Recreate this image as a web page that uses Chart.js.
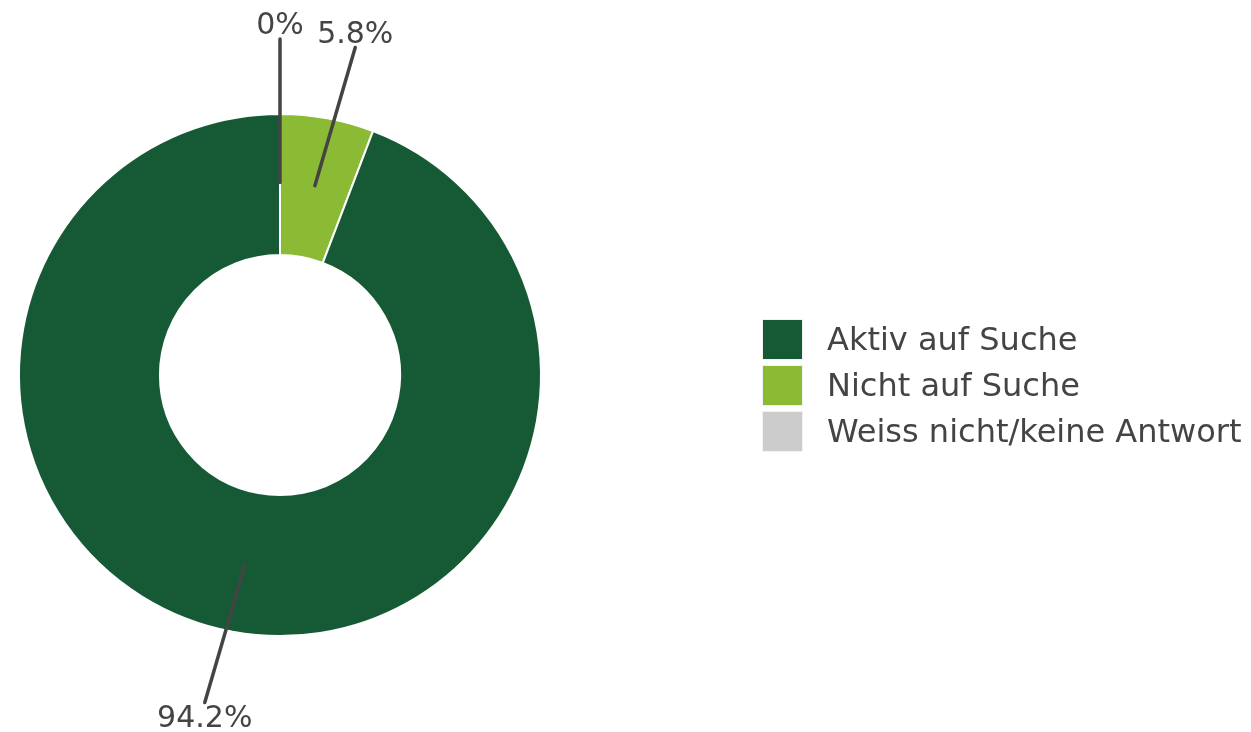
<!DOCTYPE html>
<html>
<head>
<meta charset="utf-8">
<script src="https://cdn.jsdelivr.net/npm/chart.js@4"></script>
<style>
  html, body { margin: 0; padding: 0; background: #fff; }
  #wrap { position: relative; width: 1251px; height: 732px; }
  #legend { position: absolute; left: 762px; top: 316px; font-family: "DejaVu Sans", sans-serif; font-size: 32px; color: #444; }
  .item { display: flex; align-items: center; height: 46px; }
  .box { width: 41px; height: 41px; margin-right: 24px; box-sizing: border-box; border: 1px solid #f2f2f2; }
</style>
</head>
<body>
<div id="wrap">
  <canvas id="donut" width="1251" height="732"></canvas>
  <div id="legend"></div>
</div>
<script>
// categories in legend order
const categories = ['Aktiv auf Suche', 'Nicht auf Suche', 'Weiss nicht/keine Antwort'];
const shares = [94.2, 5.8, 0];
const colors = ['#165a35', '#8bba34', '#cccccc'];
// order the slices are drawn clockwise from 12 o'clock
const drawOrder = [1, 0, 2];

// legend
var legend = document.getElementById('legend');
categories.forEach(function(name, i) {
    var row = document.createElement('div');
    row.className = 'item';
    var box = document.createElement('div');
    box.className = 'box';
    box.style.background = colors[i];
    var txt = document.createElement('span');
    txt.textContent = name;
    row.appendChild(box);
    row.appendChild(txt);
    legend.appendChild(row);
});

// outside labels with leader lines
const leaderLabels = {
    id: 'leaderLabels',
    afterDatasetsDraw(chart) {
        var ctx = chart.ctx;
        var meta = chart.getDatasetMeta(0);
        ctx.save();
        ctx.strokeStyle = '#444';
        ctx.lineWidth = 3.5;
        ctx.lineCap = 'round';
        ctx.fillStyle = '#444';
        ctx.font = '30px "DejaVu Sans"';
        ctx.textAlign = 'center';
        meta.data.forEach(function(arc, i) {
            var p = arc.getProps(['x', 'y', 'startAngle', 'endAngle', 'innerRadius', 'outerRadius'], true);
            var mid = (p.startAngle + p.endAngle) / 2;
            var value = chart.data.datasets[0].data[i];
            var nudge = value > 0 ? 2.5 * Math.PI / 180 : 0;
            var r0 = (p.innerRadius + p.outerRadius) / 2 + 2;
            var r1 = p.outerRadius + 75;
            var x0 = p.x + Math.cos(mid) * r0, y0 = p.y + Math.sin(mid) * r0;
            var x1 = p.x + Math.cos(mid + nudge) * r1, y1 = p.y + Math.sin(mid + nudge) * r1;
            ctx.beginPath();
            ctx.moveTo(x0, y0);
            ctx.lineTo(x1, y1);
            ctx.stroke();
            var label = value + '%';
            if (y1 < p.y) {
                ctx.textBaseline = 'alphabetic';
                ctx.fillText(label, x1, y1 - 5);
            } else {
                ctx.textBaseline = 'top';
                ctx.fillText(label, x1, y1 + 2);
            }
        });
        ctx.restore();
    }
};

window.onload = function() {
    var ctx = document.getElementById('donut').getContext('2d');
    new Chart(ctx, {
        type: 'doughnut',
        data: {
            labels: drawOrder.map(function(i) { return categories[i]; }),
            datasets: [{
                data: drawOrder.map(function(i) { return shares[i]; }),
                backgroundColor: drawOrder.map(function(i) { return colors[i]; }),
                borderColor: '#ffffff',
                borderWidth: 2
            }]
        },
        options: {
            responsive: false,
            animation: false,
            cutout: '46%',
            layout: { padding: { left: 18, right: 709, top: 113, bottom: 95 } },
            plugins: {
                legend: { display: false },
                tooltip: { enabled: false }
            }
        },
        plugins: [leaderLabels]
    });
};
</script>
</body>
</html>
